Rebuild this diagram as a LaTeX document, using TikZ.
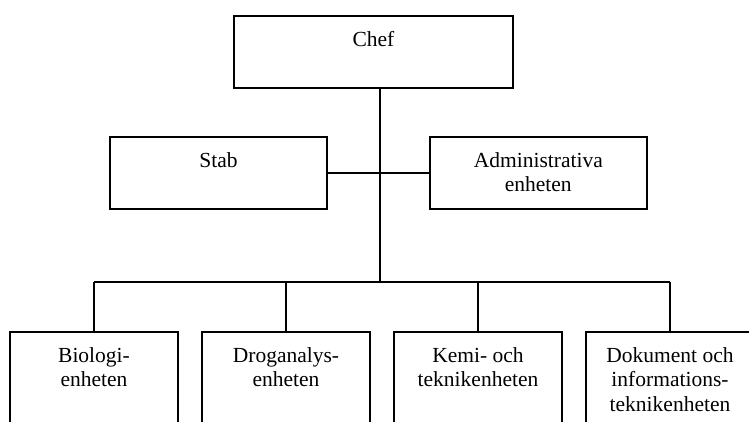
\documentclass[tikz,border=0pt]{standalone}
\usepackage{fontspec}
\setmainfont{Liberation Serif}
\usetikzlibrary{positioning}
\tikzset{
	unit/.style={rectangle, draw=black, line width=1.8pt, inner sep=0pt},
	topunit/.style={unit, minimum width=279pt, minimum height=72pt},
	midunit/.style={unit, minimum width=217pt, minimum height=72pt},
	lowunit/.style={unit, minimum width=168pt, minimum height=110pt},
	unittext/.style={inner sep=0pt, align=center, font=\fontsize{21.5}{24.5}\selectfont},
	link/.style={line width=1.8pt, draw=black},
}

\begin{document}
\begin{tikzpicture}[x=1pt, y=1pt, node distance=22.2pt]
	\useasboundingbox (0,0) rectangle (749,421);
	\clip (0,0) rectangle (749,421);
	% boxes
	\node[topunit] (chef) at (373.5,369) {};
	\node[midunit] (stab) at (218.5,248) {};
	\node[midunit, right=101pt of stab] (admin) {};
	\node[lowunit] (bio) at (94,34) {};
	\node[lowunit, right=of bio] (drog) {};
	\node[lowunit, right=of drog] (kemi) {};
	\node[lowunit, right=of kemi] (doc) {};
	% texts
	\node[unittext, below=16pt of chef.north] (cheftxt) {Chef};
	\node[unittext, below=16pt of stab.north] (stabtxt) {Stab};
	\node[unittext, below=16pt of admin.north] (admintxt) {Administrativa\\enheten};
	\node[unittext, below=16pt of bio.north] (biotxt) {Biologi-\\enheten};
	\node[unittext, below=16pt of drog.north] (drogtxt) {Droganalys-\\enheten};
	\node[unittext, below=16pt of kemi.north] (kemitxt) {Kemi- och\\teknikenheten};
	\node[unittext, below=16pt of doc.north] (doctxt) {Dokument och\\informations-\\teknikenheten};
	% lines
	\coordinate (bus) at (380,139);
	\draw[link] (chef.south -| bus) -- (bus);
	\draw[link] (stab) -- (admin);
	\draw[link] (bio.north |- bus) -- (doc.north |- bus);
	\foreach \x in {bio,drog,kemi,doc}{\draw[link] (\x) -- (\x.north |- bus);}
\end{tikzpicture}
\end{document}
